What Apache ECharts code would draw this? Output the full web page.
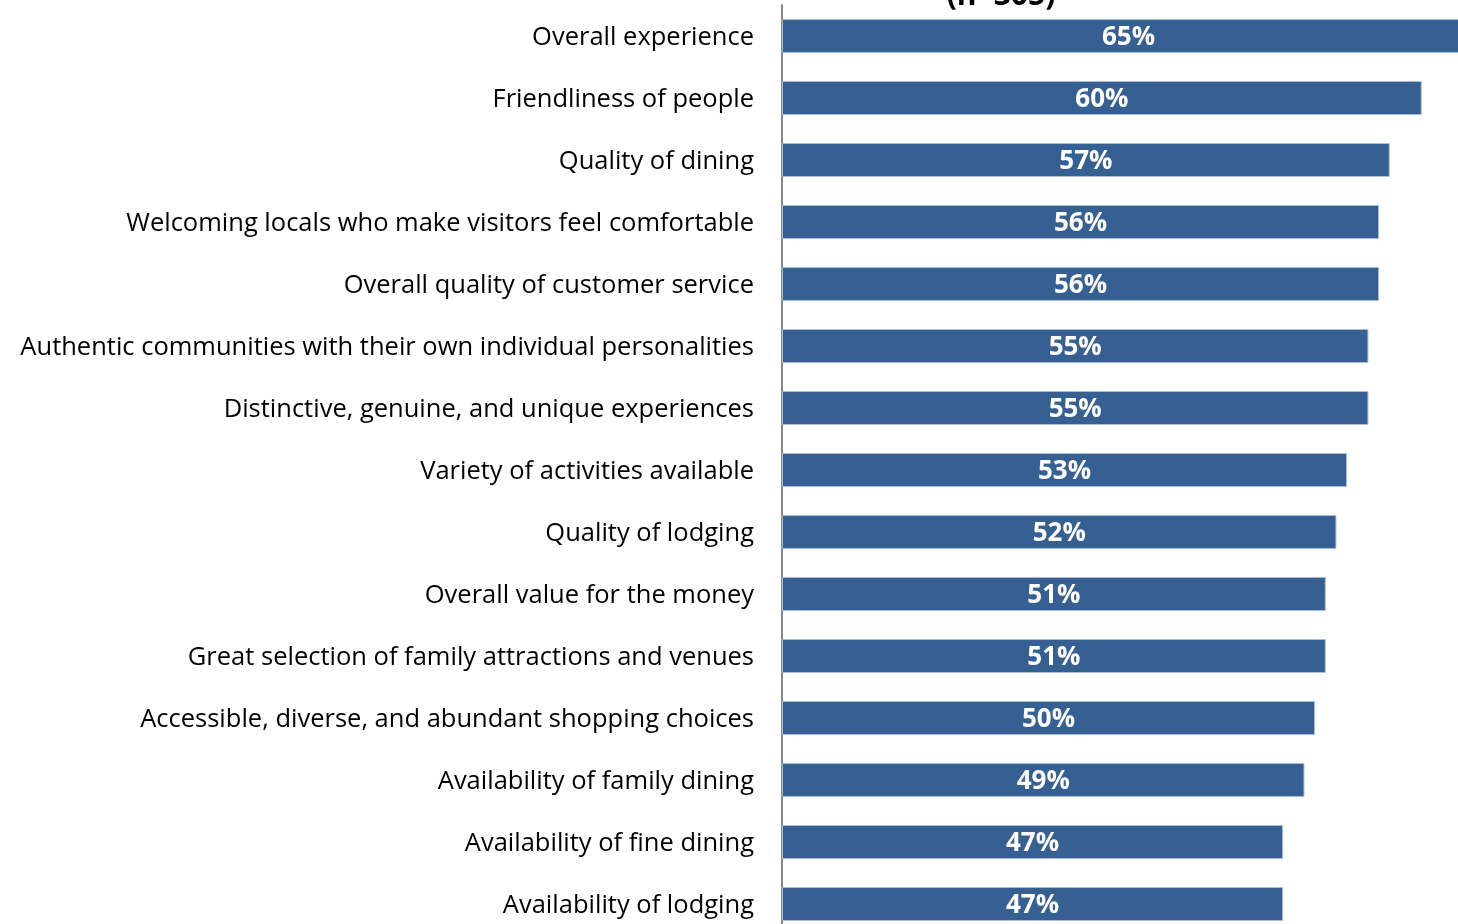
<!DOCTYPE html>
<html>
<head>
<meta charset="utf-8">
<script src="https://cdn.jsdelivr.net/npm/echarts@6/dist/echarts.min.js"></script>
<style>
html,body{margin:0;padding:0;background:#fff;}
#chart{width:1458px;height:924px;}
</style>
</head>
<body>
<div id="chart"></div>
<script>
const titleText = '(n=305)';
const categories = [
  'Overall experience',
  'Friendliness of people',
  'Quality of dining',
  'Welcoming locals who make visitors feel comfortable',
  'Overall quality of customer service',
  'Authentic communities with their own individual personalities',
  'Distinctive, genuine, and unique experiences',
  'Variety of activities available',
  'Quality of lodging',
  'Overall value for the money',
  'Great selection of family attractions and venues',
  'Accessible, diverse, and abundant shopping choices',
  'Availability of family dining',
  'Availability of fine dining',
  'Availability of lodging'
];
const values = [65, 60, 57, 56, 56, 55, 55, 53, 52, 51, 51, 50, 49, 47, 47];

const chart = echarts.init(document.getElementById('chart'), null, {renderer: 'canvas'});
chart.setOption({
  animation: false,
  backgroundColor: '#ffffff',
  graphic: [{
    type: 'text',
    x: 1001,
    y: 11,
    z: 100,
    style: {
      text: titleText,
      font: 'bold 30px "Open Sans"',
      fill: '#000000',
      align: 'center',
      verticalAlign: 'bottom',
      textAlign: 'center',
      textVerticalAlign: 'bottom'
    }
  }],
  grid: [
    {left: 782, right: 0, top: 36, bottom: 20, containLabel: false},
    {left: 782, right: 0, top: 5, bottom: 0, containLabel: false}
  ],
  xAxis: [
    {gridIndex: 0, type: 'value', min: 0, max: 63.4, show: false, splitLine: {show: false}},
    {gridIndex: 1, type: 'value', min: 0, max: 63.4, show: false, splitLine: {show: false}}
  ],
  yAxis: [
    {
      gridIndex: 0,
      type: 'category',
      data: categories,
      inverse: true,
      boundaryGap: false,
      axisLine: {show: false},
      axisTick: {show: false},
      splitLine: {show: false},
      axisLabel: {
        margin: 28,
        color: '#000000',
        fontFamily: 'Open Sans',
        fontSize: 25.5,
        formatter: function (v) { return '{a|' + v + '}'; },
        rich: {
          a: {
            color: '#000000',
            fontFamily: 'Open Sans',
            fontSize: 25.5,
            padding: [4, 0, 0, 0]
          }
        }
      }
    },
    {
      gridIndex: 1,
      type: 'category',
      data: categories,
      inverse: true,
      axisLine: {show: true, lineStyle: {color: '#868686', width: 2}},
      axisTick: {show: false},
      axisLabel: {show: false},
      splitLine: {show: false}
    }
  ],
  series: [{
    type: 'bar',
    xAxisIndex: 0,
    yAxisIndex: 0,
    data: values,
    barWidth: 34,
    clip: false,
    itemStyle: {color: '#376092', borderColor: '#a9bdd6', borderWidth: 1},
    label: {
      show: true,
      position: 'inside',
      offset: [0, 2],
      formatter: '{c}%',
      color: '#ffffff',
      fontFamily: 'Open Sans',
      fontWeight: 'bold',
      fontSize: 26
    }
  }]
});
</script>
</body>
</html>
